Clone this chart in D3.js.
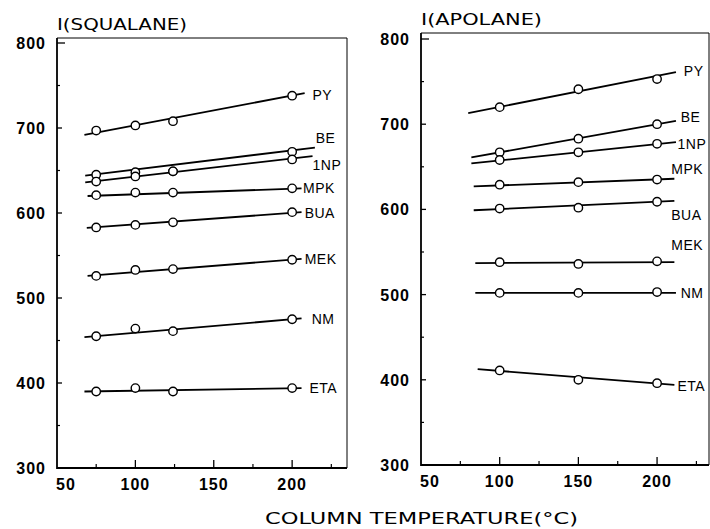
<!DOCTYPE html>
<html>
  <head>
    <meta charset="utf-8" />
    <title>Retention index vs column temperature</title>
    <script src="https://d3js.org/d3.v7.min.js"></script>
    <style>
      body {
        margin: 0;
        background: #fff;
      }
      .fit {
        fill: none;
        stroke: #000;
        stroke-width: 1.8px;
      }
      .pt {
        fill: #fff;
        stroke: #000;
        stroke-width: 1.4px;
      }
      .tick-label {
        font-family: "Liberation Sans", Arial, sans-serif;
        font-weight: bold;
        font-size: 16px;
        letter-spacing: 1px;
      }
      .series-label {
        font-family: "Liberation Sans", Arial, sans-serif;
        font-size: 14px;
        letter-spacing: 0.5px;
      }
      .title {
        font-family: "DejaVu Sans", sans-serif;
        font-size: 16px;
      }
    </style>
  </head>
  <body>
    <svg width="710" height="529"></svg>
    <script>
      // ---- data ----
      const compounds = ["PY", "BE", "1NP", "MPK", "BUA", "MEK", "NM", "ETA"];

      // squalane column
      const sqTemps = [75, 100, 124, 200];
      const sqValues = {
        PY: [697, 703, 708, 738],
        BE: [645, 648, 649, 672],
        "1NP": [637, 643, 649, 663],
        MPK: [621, 624, 624, 629],
        BUA: [583, 586, 589, 601],
        MEK: [526, 533, 534, 545],
        NM: [455, 464, 461, 475],
        ETA: [390, 394, 390, 394],
      };
      // fitted lines: [startT, startI, endT, endI]
      const sqFits = {
        PY: [67.5, 692, 208, 741],
        BE: [68, 644, 214.5, 677],
        "1NP": [68, 636, 213, 667],
        MPK: [69.5, 620, 206, 629],
        BUA: [69, 582.5, 206, 601],
        MEK: [69.5, 526, 206, 546],
        NM: [67.5, 454, 206, 476],
        ETA: [67.5, 390, 206, 394],
      };
      // label anchor [T, I]
      const sqLabels = {
        PY: [213, 739],
        BE: [215, 688],
        "1NP": [213, 656],
        MPK: [207, 629],
        BUA: [208, 600],
        MEK: [208, 546],
        NM: [212.5, 475],
        ETA: [211, 394],
      };

      // apolane column
      const apTemps = [100, 150, 200];
      const apValues = {
        PY: [720, 741, 753],
        BE: [667, 683, 700],
        "1NP": [658, 667, 677],
        MPK: [629, 632, 635],
        BUA: [601, 602, 609],
        MEK: [538, 536, 539],
        NM: [502, 502, 503],
        ETA: [411, 400, 396],
      };
      const apFits = {
        PY: [80, 713, 212, 761],
        BE: [82, 661, 212, 704],
        "1NP": [82, 654, 212, 679],
        MPK: [83.5, 627, 211, 636],
        BUA: [83.5, 599, 211, 610],
        MEK: [84.5, 537, 211, 538],
        NM: [84.5, 502, 212, 502],
        ETA: [86, 412.5, 211, 394],
      };
      const apLabels = {
        PY: [217, 762],
        BE: [215, 709],
        "1NP": [213, 677],
        MPK: [209, 647],
        BUA: [209, 594],
        MEK: [209, 558],
        NM: [215, 502],
        ETA: [213, 393],
      };

      const yTicks = [300, 400, 500, 600, 700, 800];
      const yMinor = [350, 450, 550, 650, 750];
      const xTicks = [50, 100, 150, 200];
      const xMinor = [75, 125, 175, 225];

      const svg = d3.select("svg");

      const panels = [
        {
          title: "I(SQUALANE)",
          titleLen: 130,
          temps: sqTemps,
          values: sqValues,
          fits: sqFits,
          labels: sqLabels,
          left: 57,
          right: 347,
          top: 38,
          y800: 43,
          bottom: 468,
          xMax: 235,
        },
        {
          title: "I(APOLANE)",
          titleLen: 121,
          temps: apTemps,
          values: apValues,
          fits: apFits,
          labels: apLabels,
          left: 421,
          right: 709,
          top: 33,
          y800: 39,
          bottom: 465,
          xMax: 233,
        },
      ];

      panels.forEach(drawPanel);

      function drawPanel(p) {
        const x = d3.scaleLinear().domain([50, p.xMax]).range([p.left, p.right]);
        const y = d3.scaleLinear().domain([300, 800]).range([p.bottom, p.y800]);
        const g = svg.append("g");

        // frame (thin top/right)
        g.append("path")
          .attr("d", `M${p.left},${p.top}H${p.right}V${p.bottom}`)
          .attr("fill", "none")
          .attr("stroke", "#000")
          .attr("stroke-width", 1);

        // axes
        g.append("path")
          .attr("d", `M${p.left},${p.top}V${p.bottom}H${p.right}`)
          .attr("fill", "none")
          .attr("stroke", "#000")
          .attr("stroke-width", 1.8);

        // y ticks (inside)
        g.selectAll(".ymaj")
          .data(yTicks.filter((d) => d > 300))
          .enter()
          .append("line")
          .attr("x1", p.left)
          .attr("x2", (d) => p.left + (d === 800 ? 8 : 5))
          .attr("y1", (d) => y(d))
          .attr("y2", (d) => y(d))
          .attr("stroke", "#000")
          .attr("stroke-width", 1.3);
        g.selectAll(".ymin")
          .data(yMinor)
          .enter()
          .append("line")
          .attr("x1", p.left)
          .attr("x2", p.left + 3)
          .attr("y1", (d) => y(d))
          .attr("y2", (d) => y(d))
          .attr("stroke", "#000")
          .attr("stroke-width", 1.2);

        g.selectAll(".ylab")
          .data(yTicks)
          .enter()
          .append("text")
          .attr("class", "tick-label")
          .attr("x", p.left - 11)
          .attr("y", (d) => y(d) + 6)
          .attr("text-anchor", "end")
          .text((d) => d);

        // x ticks (inside)
        g.selectAll(".xmaj")
          .data(xTicks.filter((d) => d > 50))
          .enter()
          .append("line")
          .attr("x1", (d) => x(d))
          .attr("x2", (d) => x(d))
          .attr("y1", p.bottom)
          .attr("y2", p.bottom - 8)
          .attr("stroke", "#000")
          .attr("stroke-width", 1.3);
        g.selectAll(".xmin")
          .data(xMinor)
          .enter()
          .append("line")
          .attr("x1", (d) => x(d))
          .attr("x2", (d) => x(d))
          .attr("y1", p.bottom)
          .attr("y2", p.bottom - 4)
          .attr("stroke", "#000")
          .attr("stroke-width", 1.2);

        g.selectAll(".xlab")
          .data(xTicks)
          .enter()
          .append("text")
          .attr("class", "tick-label")
          .attr("x", (d) => (d === 50 ? x(d) + 9 : x(d)))
          .attr("y", p.bottom + 22)
          .attr("text-anchor", "middle")
          .text((d) => d);

        // title
        g.append("text")
          .attr("class", "title")
          .attr("x", p.left)
          .attr("y", p.top - 8)
          .attr("textLength", p.titleLen)
          .attr("lengthAdjust", "spacingAndGlyphs")
          .text(p.title);

        // fitted lines
        compounds.forEach((c) => {
          const f = p.fits[c];
          g.append("line")
            .attr("class", "fit")
            .attr("x1", x(f[0]))
            .attr("y1", y(f[1]))
            .attr("x2", x(f[2]))
            .attr("y2", y(f[3]));
        });

        // points
        compounds.forEach((c) => {
          g.selectAll(null)
            .data(p.values[c])
            .enter()
            .append("circle")
            .attr("class", "pt")
            .attr("cx", (d, i) => x(p.temps[i]))
            .attr("cy", (d) => y(d))
            .attr("r", 4.2);
        });

        // labels
        compounds.forEach((c) => {
          const l = p.labels[c];
          g.append("text")
            .attr("class", "series-label")
            .attr("x", x(l[0]))
            .attr("y", y(l[1]) + 5)
            .text(c);
        });
      }

      svg.append("text")
        .attr("class", "title")
        .attr("x", 265)
        .attr("y", 524)
        .attr("textLength", 313)
        .attr("lengthAdjust", "spacingAndGlyphs")
        .style("font-size", "16px")
        .text("COLUMN TEMPERATURE(°C)");
    </script>
  </body>
</html>
